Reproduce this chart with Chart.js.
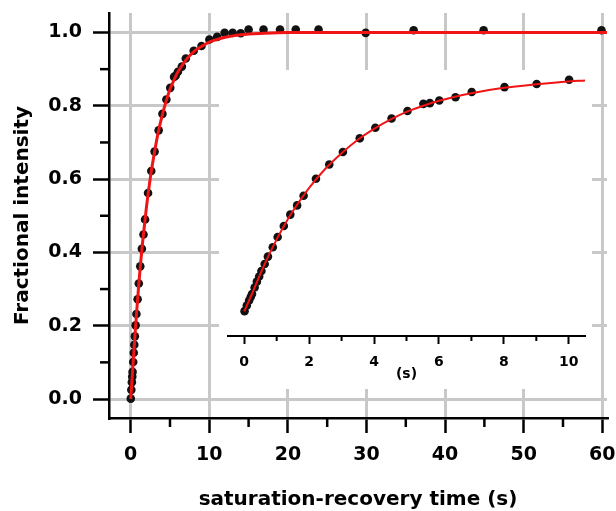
<!DOCTYPE html>
<html><head><meta charset="utf-8">
<script src="https://cdn.jsdelivr.net/npm/chart.js@4.4.0/dist/chart.umd.min.js"></script>
<style>
html,body{margin:0;padding:0;background:#fff;}
#wrap{position:relative;width:616px;height:511px;}
#main{position:absolute;left:0;top:0;}
#inset{position:absolute;left:219px;top:70px;background:#fff;}
</style></head><body>
<div id="wrap">
<canvas id="main" width="616" height="511"></canvas>
<canvas id="inset" width="373" height="319"></canvas>
</div>
<script>
// measured points (saturation-recovery time in s, fractional intensity)
const timeS = [0.01,0.08,0.15,0.20,0.24,0.32,0.39,0.46,0.53,0.63,0.73,0.88,1.03,1.22,1.42,1.63,1.83,2.21,2.62,3.04,3.56,4.04,4.54,5.03,5.52,5.72,6.01,6.51,7.01,8.02,9.01,10.01,11.0,11.95,12.97,14.0,15.0,16.9,19.0,21.0,23.9,29.9,36.0,44.9,59.9];
const fracI = [0.001,0.025,0.046,0.061,0.074,0.101,0.126,0.148,0.171,0.201,0.232,0.272,0.315,0.362,0.410,0.449,0.490,0.562,0.622,0.675,0.733,0.778,0.817,0.849,0.879,0.882,0.893,0.907,0.929,0.950,0.963,0.981,0.988,0.999,0.999,0.998,1.008,1.008,1.008,1.008,1.008,0.999,1.006,1.006,1.006];
// fitted curve
const fitTime = [0,0.25,0.5,0.75,1,1.25,1.5,2,2.5,3,3.5,4,4.5,5,5.5,6,7,8,9,10,10.5,12,14,17,20,30,60.6];
const fitFrac = [0,0.078,0.16,0.236,0.305,0.368,0.425,0.523,0.604,0.670,0.727,0.773,0.812,0.845,0.870,0.892,0.924,0.947,0.962,0.974,0.978,0.987,0.994,0.998,1.0,1.0,1.0];
// tick values
const mainXTicks = [0,10,20,30,40,50,60];
const mainXMinor = [5,15,25,35,45,55];
const mainYTicks = [0,0.2,0.4,0.6,0.8,1.0];
const mainYMinor = [0.1,0.3,0.5,0.7,0.9];
const insetXTicks = [0,2,4,6,8,10];
const insetXMinor = [1,3,5,7,9];
const insetMaxTime = 10.5;

const FONT = "'DejaVu Sans', sans-serif";
const pts = timeS.map((t,i)=>({x:t,y:fracI[i]}));
const fit = fitTime.map((t,i)=>({x:t,y:fitFrac[i]}));

function noPad(s){ s.paddingTop=0; s.paddingBottom=0; s.paddingLeft=0; s.paddingRight=0; }

const minorTicks = {
  id:'minorTicks',
  afterDraw(chart, args, opts){
    const ctx = chart.ctx;
    ctx.save(); ctx.strokeStyle='#000'; ctx.lineWidth=opts.width; ctx.lineCap='butt';
    const xs = chart.scales.x, ys = chart.scales.y;
    (opts.xMinor||[]).forEach(v=>{const p=xs.getPixelForValue(v); ctx.beginPath(); ctx.moveTo(p, xs.top); ctx.lineTo(p, xs.top+opts.len); ctx.stroke();});
    (opts.yMinor||[]).forEach(v=>{const p=ys.getPixelForValue(v); ctx.beginPath(); ctx.moveTo(ys.right, p); ctx.lineTo(ys.right-opts.len, p); ctx.stroke();});
    ctx.restore();
  }
};

new Chart(document.getElementById('main'), {
  type:'scatter',
  data:{datasets:[
    {data:fit, showLine:true, borderColor:'#f01414', borderWidth:3, pointRadius:0, cubicInterpolationMode:'monotone', clip:false},
    {data:pts, showLine:false, pointRadius:4.3, backgroundColor:'#111', borderColor:'#111', borderWidth:0, clip:false}
  ]},
  options:{
    responsive:false, devicePixelRatio:1, animation:false,
    layout:{padding:{top:13,right:9,left:0,bottom:0}},
    plugins:{legend:{display:false}, tooltip:{enabled:false},
      minorTicks:{xMinor:mainXMinor, yMinor:mainYMinor, len:9, width:2.5}},
    scales:{
      x:{type:'linear', min:-2.76, max:60.6,
        afterBuildTicks:s=>{s.ticks=mainXTicks.map(v=>({value:v}));},
        afterFit:s=>{s.height=93; noPad(s);},
        grid:{color:'#c8c8c8', lineWidth:3, drawTicks:true, tickLength:15, tickColor:'#000', tickWidth:2.5},
        border:{display:true, color:'#000', width:2.5},
        ticks:{font:{family:FONT,size:19,weight:'bold'}, color:'#000', padding:11, maxRotation:0, autoSkip:false, callback:v=>String(v)},
        title:{display:true, text:'saturation-recovery time (s)', font:{family:FONT,size:20,weight:'bold',lineHeight:1.1}, color:'#000', padding:{top:0,bottom:0}}
      },
      y:{type:'linear', min:-0.0518, max:1.0532,
        afterBuildTicks:s=>{s.ticks=mainYTicks.map(v=>({value:v}));},
        afterFit:s=>{s.width=109; noPad(s);},
        grid:{color:'#c8c8c8', lineWidth:3, drawTicks:true, tickLength:16, tickColor:'#000', tickWidth:2.5},
        border:{display:true, color:'#000', width:2.5},
        ticks:{font:{family:FONT,size:19,weight:'bold'}, color:'#000', padding:11, autoSkip:false, callback:v=>v.toFixed(1)},
        title:{display:true, text:'Fractional intensity', font:{family:FONT,size:20,weight:'bold'}, color:'#000', padding:{top:11,bottom:0}}
      }
    }
  },
  plugins:[minorTicks]
});

new Chart(document.getElementById('inset'), {
  type:'scatter',
  data:{datasets:[
    {data:fit.filter(p=>p.x<=insetMaxTime), showLine:true, borderColor:'#f01414', borderWidth:2, pointRadius:0, cubicInterpolationMode:'monotone', clip:false},
    {data:pts.filter(p=>p.x<=insetMaxTime), showLine:false, pointRadius:4.3, backgroundColor:'#111', borderColor:'#111', borderWidth:0, clip:false}
  ]},
  options:{
    responsive:false, devicePixelRatio:1, animation:false,
    layout:{padding:{top:0,right:7,left:9,bottom:0}},
    plugins:{legend:{display:false}, tooltip:{enabled:false},
      minorTicks:{xMinor:insetXMinor, yMinor:[], len:5, width:2}},
    scales:{
      x:{type:'linear', min:-0.5, max:10.5,
        afterBuildTicks:s=>{s.ticks=insetXTicks.map(v=>({value:v}));},
        afterFit:s=>{s.height=53; noPad(s);},
        grid:{drawOnChartArea:false, drawTicks:true, tickLength:8, tickColor:'#000', tickWidth:2},
        border:{display:true, color:'#000', width:2},
        ticks:{font:{family:FONT,size:14,weight:'bold'}, color:'#000', padding:10, maxRotation:0, autoSkip:false, callback:v=>String(v)},
        title:{display:true, text:'(s)', font:{family:FONT,size:14,weight:'bold'}, color:'#000', padding:{top:0,bottom:6}}
      },
      y:{type:'linear', display:false, min:-0.1042, max:1.0042}
    }
  },
  plugins:[minorTicks]
});
</script>
</body></html>
